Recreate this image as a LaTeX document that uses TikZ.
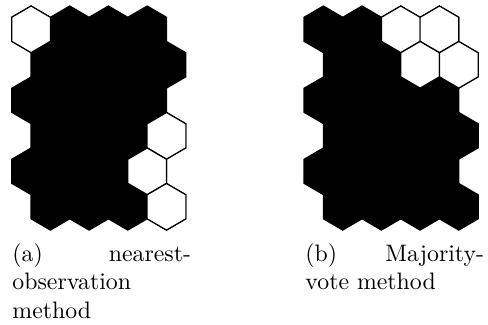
\documentclass[tikz,border=0pt]{standalone}
\usetikzlibrary{calc}

\tikzset{
  hexcell/.pic={\path[pic actions] (0,-23.3) -- (19.35,-12) -- (19.35,12) -- (0,23.3) -- (-19.35,12) -- (-19.35,-12) -- cycle;},
  unitblack/.style={fill=black,draw=black,line width=.5pt},
  unitwhite/.style={fill=white,draw=black,line width=.5pt},
  subcap/.style={anchor=north west,inner sep=0pt,text width=75pt,align=justify}
}

\begin{document}
\begin{tikzpicture}[x=0.42pt,y=-0.42pt]
\useasboundingbox (0,0) rectangle (488,324);
% map (a): nearest observation
\foreach \r in {0,...,5}
  \foreach \c in {0,...,3}
    \pic [unitblack] at ({31.05+38.7*\c+19.35*mod(\r,2)},{29.3+35.5*\r}) {hexcell};
\foreach \r/\c in {0/0,3/3,4/3,5/3}
  \pic [unitwhite] at ({31.05+38.7*\c+19.35*mod(\r,2)},{29.3+35.5*\r}) {hexcell};
% map (b): majority vote
\foreach \r in {0,...,5}
  \foreach \c in {0,...,3}
    \pic [unitblack] at ({323.35+38.7*\c+19.35*mod(\r,2)},{29.3+35.5*\r}) {hexcell};
\foreach \r/\c in {0/2,0/3,1/2,1/3}
  \pic [unitwhite] at ({323.35+38.7*\c+19.35*mod(\r,2)},{29.3+35.5*\r}) {hexcell};
\node (capa) [subcap] at (12,243) {(a) nearest-observation method};
\node (capb) [subcap] at (305,243) {(b) Majority-vote method};
\end{tikzpicture}
\end{document}
